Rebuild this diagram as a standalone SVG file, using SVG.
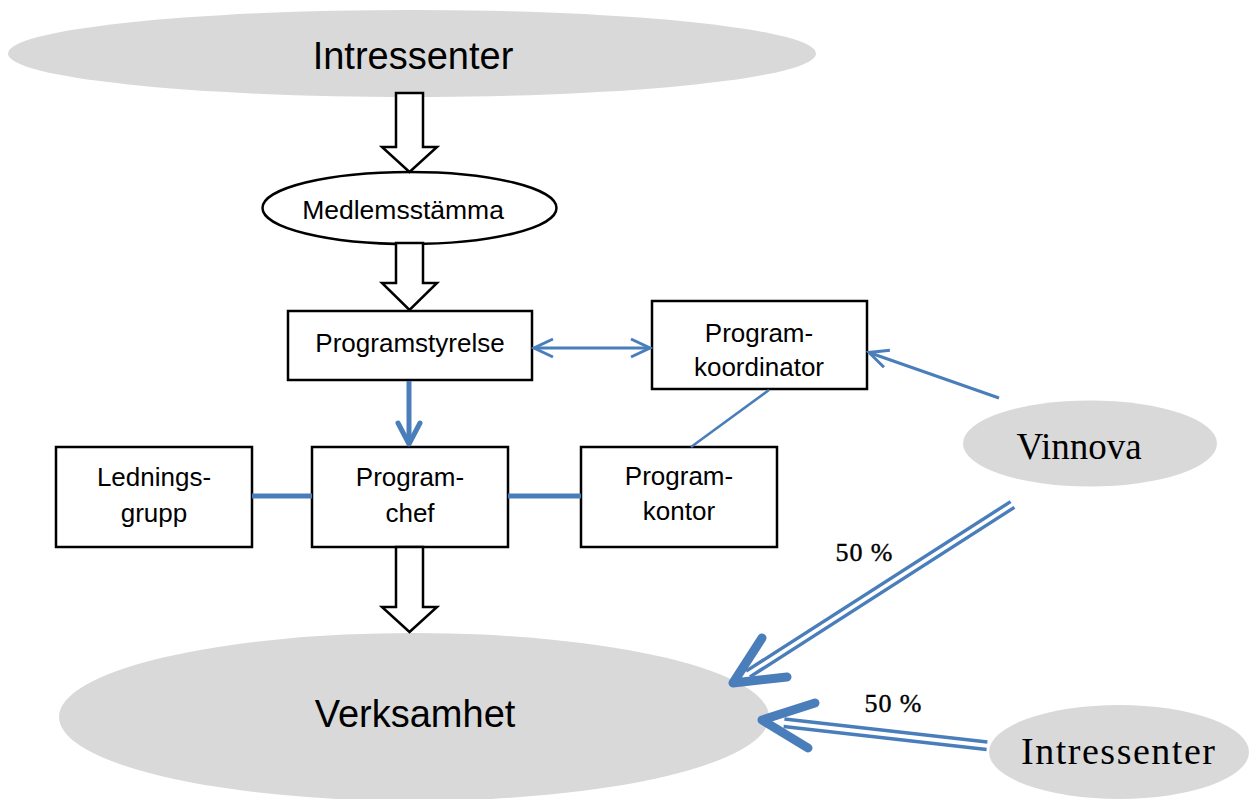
<svg xmlns="http://www.w3.org/2000/svg" width="1252" height="799" viewBox="0 0 1252 799">
<defs>
<style>
.grey{fill:#d9d9d9;stroke:none}
.box{fill:#fff;stroke:#000;stroke-width:2.5}
.sans{font-family:"Liberation Sans",Arial,sans-serif;fill:#000;text-anchor:middle}
.serif{font-family:"Liberation Serif","Times New Roman",serif;fill:#000;text-anchor:middle}
.block{fill:#fff;stroke:#000;stroke-width:2.5;stroke-linejoin:miter}
.blue{fill:none;stroke:#4a7ebb}
.thin{stroke-width:3}
.thick{stroke-width:5}
.dbl{stroke-width:3.4}
.head{fill:none;stroke:#4a7ebb;stroke-width:9;stroke-linecap:round;stroke-linejoin:round}
.pct{font-family:"Liberation Serif","Times New Roman",serif;fill:#000;text-anchor:middle;stroke:#000;stroke-width:0.4}
</style>
<marker id="chev" markerUnits="userSpaceOnUse" markerWidth="40" markerHeight="40" refX="0" refY="0" orient="auto-start-reverse" overflow="visible">
<path d="M-19,-9 L0,0 L-19,9" fill="none" stroke="#4a7ebb" stroke-width="3"/>
</marker>
</defs>

<g id="intressenter-top">
<ellipse class="grey" cx="412" cy="53.5" rx="404" ry="43.5"/>
<text class="sans" x="413" y="69" font-size="38">Intressenter</text>
</g>

<g id="verksamhet">
<ellipse class="grey" cx="414" cy="717" rx="355" ry="84"/>
<text class="sans" x="415" y="727" font-size="38">Verksamhet</text>
</g>

<g id="vinnova">
<ellipse class="grey" cx="1090" cy="443.5" rx="127" ry="43"/>
<text class="serif" x="1079" y="459" font-size="37">Vinnova</text>
</g>

<g id="intressenter-bottom">
<ellipse class="grey" cx="1119" cy="752" rx="130" ry="47"/>
<text class="serif" x="1118" y="764" font-size="38" textLength="194" lengthAdjust="spacing">Intressenter</text>
</g>

<g id="medlemsstamma">
<ellipse cx="409.5" cy="208" rx="147" ry="36" fill="#fff" stroke="#000" stroke-width="2.5"/>
<text class="sans" x="403" y="219" font-size="26.5">Medlemsstämma</text>
</g>

<g id="programstyrelse">
<rect class="box" x="288" y="311" width="244" height="69"/>
<text class="sans" x="410" y="352" font-size="26">Programstyrelse</text>
</g>

<g id="programkoordinator">
<rect class="box" x="652" y="301" width="215" height="88"/>
<text class="sans" x="759" y="342" font-size="26">Program-</text>
<text class="sans" x="759" y="376" font-size="26">koordinator</text>
</g>

<g id="ledningsgrupp">
<rect class="box" x="56" y="447" width="196" height="100"/>
<text class="sans" x="154" y="486" font-size="26">Lednings-</text>
<text class="sans" x="154" y="522" font-size="26">grupp</text>
</g>

<g id="programchef">
<rect class="box" x="312" y="447" width="196" height="100"/>
<text class="sans" x="410" y="486" font-size="26">Program-</text>
<text class="sans" x="410" y="522" font-size="26">chef</text>
</g>

<g id="programkontor">
<rect class="box" x="581" y="447" width="196" height="100"/>
<text class="sans" x="679" y="485" font-size="26">Program-</text>
<text class="sans" x="679" y="520" font-size="26">kontor</text>
</g>

<g id="connectors">
<polygon class="block" points="396,93 423,93 423,147 437,147 409.5,172 382,147 396,147"/>
<polygon class="block" points="396,243 423,243 423,283 437,283 409.5,310 382,283 396,283"/>
<polygon class="block" points="396,547 423,547 423,607 437,607 409.5,632 382,607 396,607"/>
<line class="blue thin" x1="534" y1="348" x2="650" y2="348" marker-start="url(#chev)" marker-end="url(#chev)"/>
<line class="blue thin" x1="999" y1="398" x2="869" y2="352.5" marker-end="url(#chev)"/>
<line class="blue" stroke-width="2.5" x1="769" y1="390" x2="691" y2="447"/>
<line class="blue thick" x1="409" y1="381" x2="409" y2="442"/>
<path class="blue thick" d="M398,423 L409,444 L420,423" stroke-linecap="round" stroke-linejoin="round"/>
<line class="blue thick" x1="252" y1="496" x2="312" y2="496"/>
<line class="blue thick" x1="508" y1="496" x2="581" y2="496"/>
<line class="blue dbl" x1="1010.6" y1="501.6" x2="746.1" y2="671.1"/>
<line class="blue dbl" x1="1014.4" y1="507.4" x2="749.9" y2="676.9"/>
<path class="head" d="M762,638 L733,683 L787,677"/>
<line class="blue dbl" x1="987.4" y1="742" x2="784.4" y2="719"/>
<line class="blue dbl" x1="986.6" y1="749.5" x2="783.6" y2="726.5"/>
<path class="head" d="M815,703 L762,720 L808,748"/>
</g>

<g id="labels">
<text class="pct" x="864" y="561" font-size="26" textLength="57" lengthAdjust="spacing">50 %</text>
<text class="pct" x="893" y="712" font-size="26" textLength="57" lengthAdjust="spacing">50 %</text>
</g>
</svg>
